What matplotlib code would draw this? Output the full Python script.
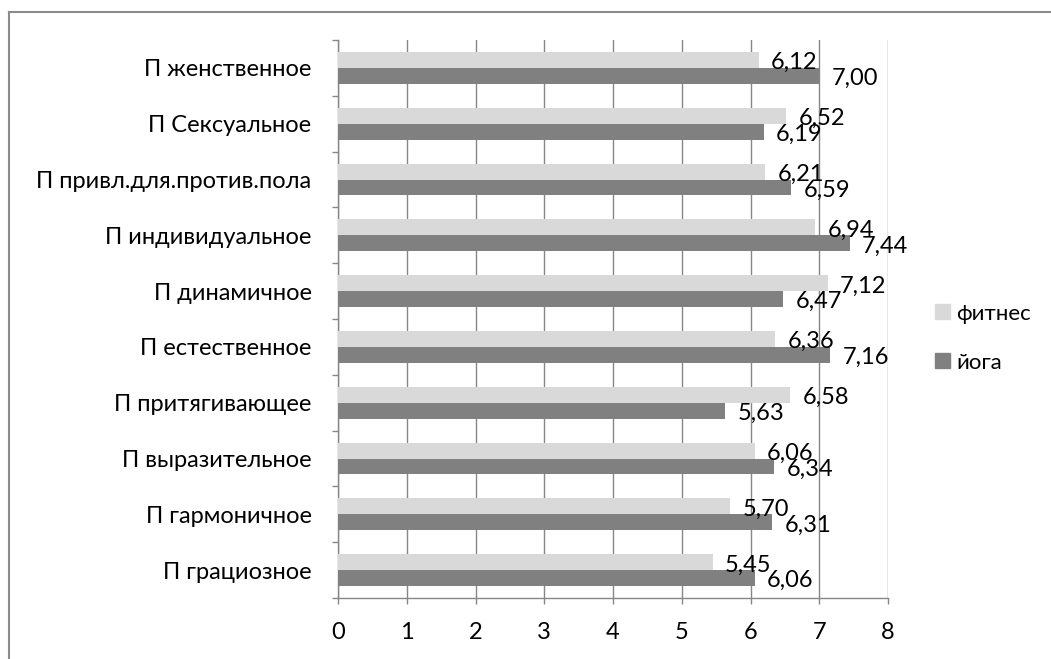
import matplotlib.pyplot as plt
import numpy as np
from matplotlib.lines import Line2D
from matplotlib.patches import Patch

plt.rcParams["font.family"] = ["Lato", "DejaVu Sans"]

categories = [
    "П грациозное",
    "П гармоничное",
    "П выразительное",
    "П притягивающее",
    "П естественное",
    "П динамичное",
    "П индивидуальное",
    "П привл.для.против.пола",
    "П Сексуальное",
    "П женственное",
]
fitness = [5.45, 5.70, 6.06, 6.58, 6.36, 7.12, 6.94, 6.21, 6.52, 6.12]
yoga = [6.06, 6.31, 6.34, 5.63, 7.16, 6.47, 7.44, 6.59, 6.19, 7.00]
x_ticks = [0, 1, 2, 3, 4, 5, 6, 7, 8]

light = "#d9d9d9"
dark = "#808080"
grid_col = "#868686"
fs = 17

fig = plt.figure(figsize=(10.51, 6.59), dpi=100)
ax = fig.add_axes([338 / 1051, 1 - 598 / 659, 550 / 1051, 558 / 659])

y = np.arange(len(categories))
h = 0.285
ax.barh(y + h / 2, fitness, height=h, color=light, zorder=3)
ax.barh(y - h / 2, yoga, height=h, color=dark, zorder=3)


def fmt(v):
    return f"{v:.2f}".replace(".", ",")


for yi, v in zip(y + h / 2, fitness):
    ax.annotate(fmt(v), (v, yi), xytext=(9, -2), textcoords="offset points",
                ha="left", va="center", fontsize=fs, zorder=4)
for yi, v in zip(y - h / 2, yoga):
    ax.annotate(fmt(v), (v, yi), xytext=(9, -2), textcoords="offset points",
                ha="left", va="center", fontsize=fs, zorder=4)

ax.set_xlim(0, 8)
ax.set_ylim(-0.5, len(categories) - 0.5)
ax.set_xticks(x_ticks)
ax.set_yticks(y)
ax.set_yticklabels(categories, fontsize=fs)
ax.set_yticks(np.arange(-0.5, len(categories), 1), minor=True)
ax.tick_params(axis="y", which="major", length=0, pad=19)
ax.tick_params(axis="y", which="minor", length=4, width=1, color=grid_col, direction="out")
ax.tick_params(axis="x", length=4, width=1, color=grid_col, direction="out",
               labelsize=fs, pad=13)
ax.grid(axis="x", color=grid_col, linewidth=1, zorder=0)
for s in ["top", "right"]:
    ax.spines[s].set_visible(False)
for s in ["left", "bottom"]:
    ax.spines[s].set_color(grid_col)
    ax.spines[s].set_linewidth(1)

handles = [Patch(color=light), Patch(color=dark)]
fig.legend(handles, ["фитнес", "йога"], loc="center left",
           bbox_to_anchor=(0.871, 0.487), frameon=False, fontsize=16,
           handlelength=0.65, handleheight=0.65, handletextpad=0.3,
           labelspacing=1.3)

# chart area border (only top and left edges are visible in the crop)
fig.add_artist(Line2D([8.5 / 1051, 8.5 / 1051], [0, 1 - 11.5 / 659],
                      transform=fig.transFigure, color="#8c8c8c", lw=1.5))
fig.add_artist(Line2D([8.5 / 1051, 1], [1 - 11.5 / 659, 1 - 11.5 / 659],
                      transform=fig.transFigure, color="#8c8c8c", lw=1.5))

fig.savefig("out.png", dpi=100)
